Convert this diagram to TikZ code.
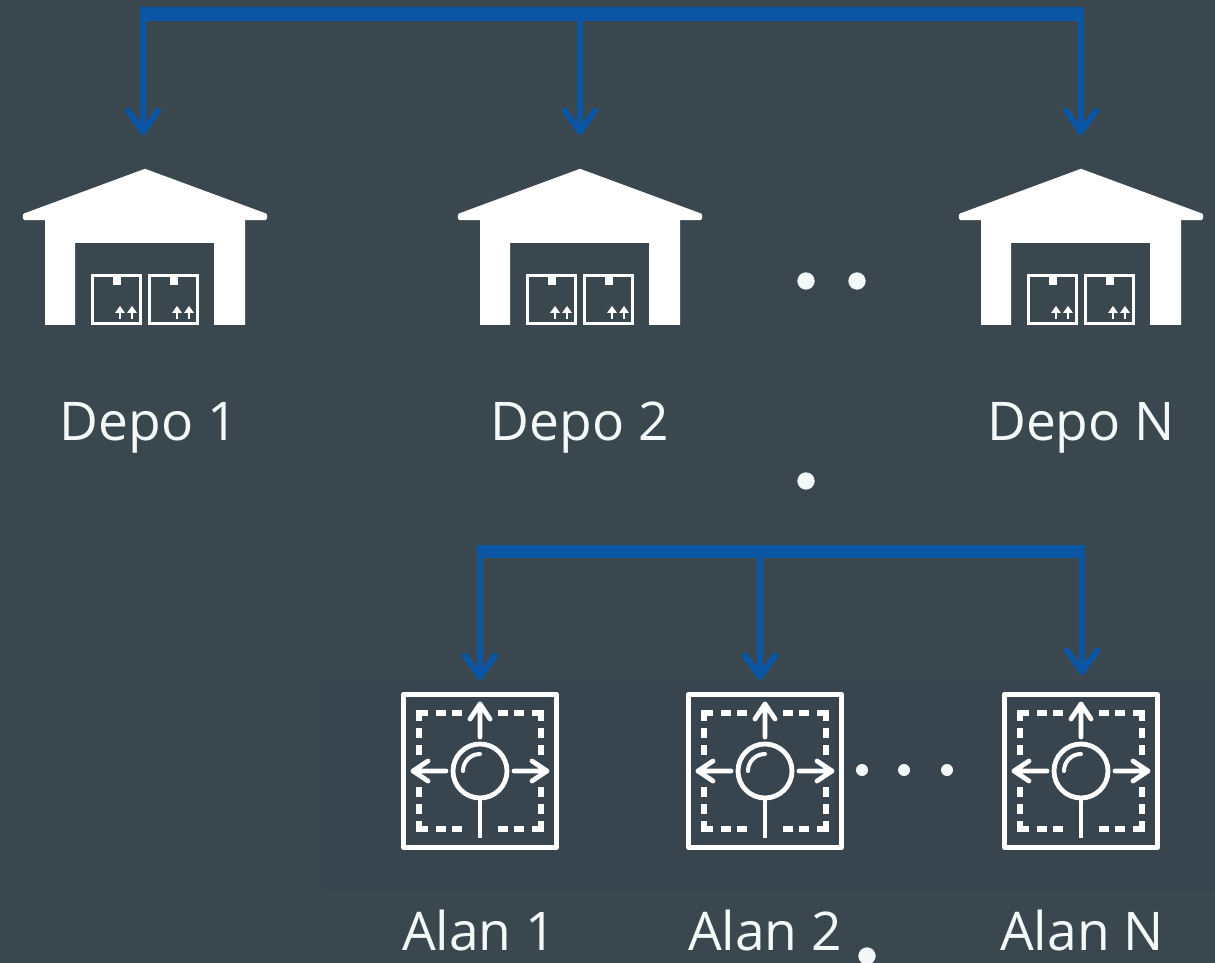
\documentclass[tikz,border=0pt]{standalone}
\usepackage{fontspec}
\setmainfont{Open Sans}
\usetikzlibrary{arrows.meta}
\definecolor{bgmain}{HTML}{3B474F}
\definecolor{bgband}{HTML}{38454F}
\definecolor{busblue}{HTML}{0A56A5}
\definecolor{inkwhite}{HTML}{F3F8F8}
\tikzset{
  x=0.75pt,y=-0.75pt,
  busline/.style={draw=busblue,line width=10.5pt,line cap=butt,line join=miter},
  dropline/.style={draw=busblue,line width=4.5pt,-{Straight Barb[length=16pt,width=22.5pt,round,line width=4.5pt]}},
  label/.style={text=inkwhite,font=\fontsize{40}{46}\selectfont,anchor=base,inner sep=0pt},
  dotmark/.style={fill=inkwhite,draw=none,circle,inner sep=0pt},
  depot/.pic={
    \fill[white,draw=white,line width=2.4pt,line join=round]
      (0,170.5) -- (120.5,215) -- (120.5,218.5) -- (-120.5,218.5) -- (-120.5,215) -- cycle;
    \fill[white]
      (-100,216) -- (100,216) -- (100,325) -- (69,325) -- (69,243) -- (-70,243) -- (-70,325) -- (-100,325) -- cycle;
    \foreach \dx in {-54,3}{
      \draw[draw=white,line width=2.5pt] (\dx+1.5,275.5) rectangle (\dx+49.5,323.5);
      \fill[white] (\dx+21.5,276) rectangle (\dx+29.5,285);
      \foreach \ax in {29,41}{
        \draw[white,line width=2.1pt] (\dx+\ax,319) -- (\dx+\ax,309);
        \fill[white] (\dx+\ax-5,313) -- (\dx+\ax,306) -- (\dx+\ax+5,313) -- cycle;
      }
    }
  },
  roundabout/.pic={
    \draw[draw=white,line width=3.9pt,line join=round] (-76.5,-76.5) rectangle (76.5,76.5);
    \draw[white,line width=3.6pt] (0,0) circle (27);
    \draw[white,line width=3pt,line cap=round] (-17,0) arc (180:270:17) ;
    \draw[white,line width=3.6pt] (0,27) -- (0,67);
    \draw[white,line width=3.6pt,line cap=round,line join=round]
      (0,-34) -- (0,-67) (-10,-52) -- (0,-67) -- (10,-52)
      (-34,0) -- (-67,0) (-52,-10) -- (-67,0) -- (-52,10)
      (34,0) -- (67,0) (52,-10) -- (67,0) -- (52,10);
    \foreach \sx in {1,-1}{\foreach \sy in {1,-1}{
      \begin{scope}[xscale=\sx,yscale=\sy]
        \draw[white,line width=3.9pt,line join=miter]
          (-52,-58) -- (-61,-58) -- (-61,-50)
          (-44,-58) -- (-34,-58) (-28,-58) -- (-18,-58)
          (-61,-43) -- (-61,-33) (-61,-26) -- (-61,-16);
      \end{scope}
    }}
  }
}
\begin{document}
\begin{tikzpicture}
\path[use as bounding box] (0,0) rectangle (1215,963);
\fill[bgmain] (0,0) rectangle (1215,963);
\fill[bgband] (322,680) rectangle (1215,890);

% depots
\pic at (145,0) {depot};
\pic at (580,0) {depot};
\pic at (1081,0) {depot};
\node[label] (depo1) at (149,440) {Depo 1};
\node[label] (depo2) at (580,440) {Depo 2};
\node[label] (depoN) at (1081,440) {Depo N};

% areas
\pic at (480,771) {roundabout};
\pic at (765,771) {roundabout};
\pic at (1081,771) {roundabout};
\node[label] (alan1) at (479,950) {Alan 1};
\node[label] (alan2) at (765,950) {Alan 2};
\node[label] (alanN) at (1082,950) {Alan N};

% dots
\node[dotmark,minimum size=13pt] (dota) at (806,281) {};
\node[dotmark,minimum size=13pt] (dotb) at (857,281) {};
\node[dotmark,minimum size=13pt] (dotc) at (806,481) {};
\node[dotmark,minimum size=9pt] (dotd) at (862,770) {};
\node[dotmark,minimum size=9pt] (dote) at (904,770) {};
\node[dotmark,minimum size=9pt] (dotf) at (947,770) {};
\node[dotmark,minimum size=13pt] (dotg) at (867,956) {};

% connectors, top
\coordinate (busAl) at (140,14.5);
\coordinate (busAr) at (1084,14.5);
\coordinate (busA1) at (143,14.5);
\coordinate (busA2) at (580,14.5);
\coordinate (busA3) at (1081,14.5);
\coordinate (tipA1) at (143,135);
\coordinate (tipA2) at (580,135);
\coordinate (tipA3) at (1081,135);
\draw[busline] (busAl) -- (busAr);
\draw[dropline] (busA1) -- (tipA1);
\draw[dropline] (busA2) -- (tipA2);
\draw[dropline] (busA3) -- (tipA3);

% connectors, bottom
\coordinate (busBl) at (477,551.5);
\coordinate (busBr) at (1085,551.5);
\coordinate (busB1) at (480,551.5);
\coordinate (busB2) at (760,551.5);
\coordinate (busB3) at (1082,551.5);
\coordinate (tipB1) at (480,680);
\coordinate (tipB2) at (760,680);
\coordinate (tipB3) at (1082,675);
\draw[busline,line width=10pt] (busBl) -- (busBr);
\draw[dropline] (busB1) -- (tipB1);
\draw[dropline] (busB2) -- (tipB2);
\draw[dropline] (busB3) -- (tipB3);
\end{tikzpicture}
\end{document}
